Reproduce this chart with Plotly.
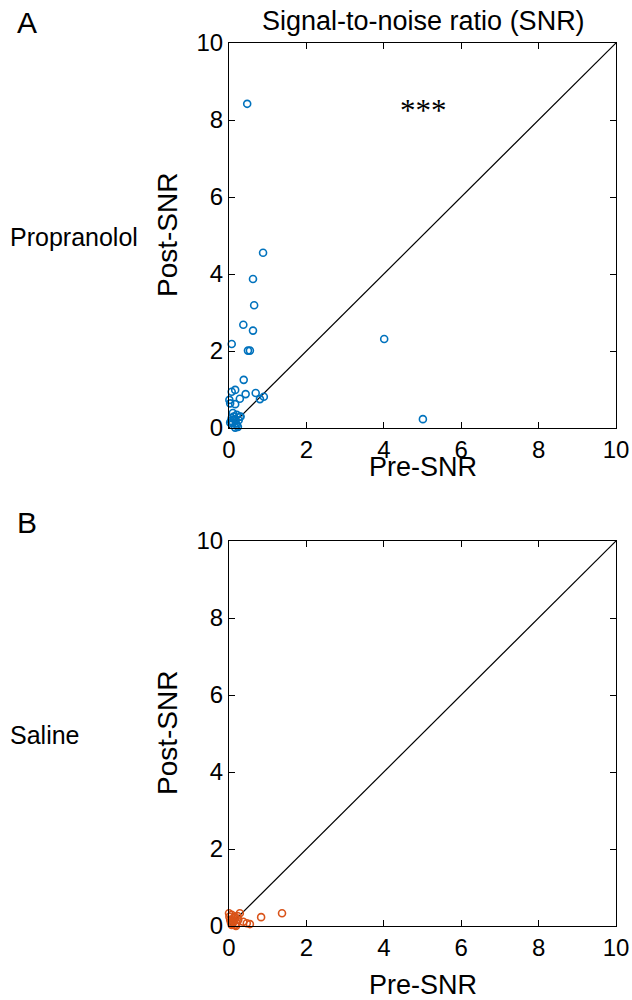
import plotly.graph_objects as go

# Panel A: Propranolol (pre, post)
prop_pre = [0.47, 0.88, 0.62, 0.65, 0.37, 0.62, 0.07, 0.49, 0.54, 4.01, 5.01,
            0.38, 0.16, 0.07, 0.43, 0.69, 0.90, 0.80, 0.28, 0.01, 0.03, 0.16,
            0.10, 0.20, 0.28, 0.07, 0.16, 0.03, 0.10, 0.20, 0.23, 0.16, 0.30,
            0.25, 0.12, 0.05, 0.18]
prop_post = [8.42, 4.55, 3.87, 3.19, 2.68, 2.53, 2.18, 2.01, 2.01, 2.31, 0.23,
             1.25, 0.99, 0.94, 0.88, 0.91, 0.81, 0.75, 0.76, 0.73, 0.64, 0.62,
             0.39, 0.34, 0.29, 0.26, 0.21, 0.14, 0.13, 0.08, 0.03, 0.01, 0.30,
             0.20, 0.30, 0.18, 0.12]

# Panel B: Saline (pre, post)
sal_pre = [0.83, 1.37, 0.54, 0.46, 0.37, 0.28, 0.00, 0.07, 0.16, 0.03, 0.11,
           0.20, 0.07, 0.24, 0.16, 0.01, 0.12, 0.05, 0.22, 0.09, 0.14, 0.18]
sal_post = [0.23, 0.33, 0.05, 0.07, 0.11, 0.33, 0.33, 0.29, 0.24, 0.16, 0.11,
            0.07, 0.03, 0.16, 0.03, 0.24, 0.20, 0.09, 0.26, 0.05, 0.14, 0.00]

axis_range = [0, 10]
tick_vals = [0, 2, 4, 6, 8, 10]

BLUE = "#0072BD"
ORANGE = "#D95319"
FONT = "Liberation Sans, Arial, sans-serif"

fig = go.Figure()

for pre, post, color, xa, ya in [(prop_pre, prop_post, BLUE, "x", "y"),
                                 (sal_pre, sal_post, ORANGE, "x2", "y2")]:
    fig.add_trace(go.Scatter(x=axis_range, y=axis_range, mode="lines",
                             line=dict(color="black", width=1.2),
                             xaxis=xa, yaxis=ya, showlegend=False,
                             hoverinfo="skip"))
    fig.add_trace(go.Scatter(x=pre, y=post, mode="markers",
                             marker=dict(symbol="circle-open", size=7,
                                         color=color, line=dict(width=1.6, color=color)),
                             xaxis=xa, yaxis=ya, showlegend=False, cliponaxis=False))

x0, x1 = 229 / 632, 616 / 632
axis_common = dict(range=axis_range, tickvals=tick_vals, ticks="inside", ticklen=6,
                   tickwidth=1, tickcolor="black", showline=True, linecolor="black",
                   linewidth=1.2, mirror="ticks", showgrid=False, zeroline=False,
                   automargin=False,
                   tickfont=dict(family=FONT, size=24, color="black"))

fig.update_layout(
    width=632, height=1000,
    margin=dict(l=0, r=0, t=0, b=0),
    paper_bgcolor="white", plot_bgcolor="white",
    xaxis=dict(domain=[x0, x1], anchor="y", **axis_common),
    yaxis=dict(domain=[1 - 428 / 1000, 1 - 43 / 1000], anchor="x", **axis_common),
    xaxis2=dict(domain=[x0, x1], anchor="y2", **axis_common),
    yaxis2=dict(domain=[1 - 926 / 1000, 1 - 541 / 1000], anchor="x2", **axis_common),
)

def ann(text, x, y, size, angle=0, xanchor="center", family=FONT):
    fig.add_annotation(text=text, x=x / 632, y=1 - y / 1000, xref="paper", yref="paper",
                       showarrow=False, textangle=angle, xanchor=xanchor, yanchor="middle",
                       font=dict(family=family, size=size, color="black"))

ann("A", 27, 22, 30)
ann("B", 27, 522, 30)
ann("Signal-to-noise ratio (SNR)", 423, 21, 27)
ann("Propranolol", 8, 237, 25, xanchor="left")
ann("Saline", 8, 735, 25, xanchor="left")
ann("Post-SNR", 167, 235, 28, angle=-90)
ann("Post-SNR", 167, 733, 28, angle=-90)
ann("Pre-SNR", 423, 467, 27)
ann("Pre-SNR", 423, 985, 27)
ann("***", 423, 111, 31, family="Liberation Serif, Times New Roman, serif")

fig.write_html("out.html")
